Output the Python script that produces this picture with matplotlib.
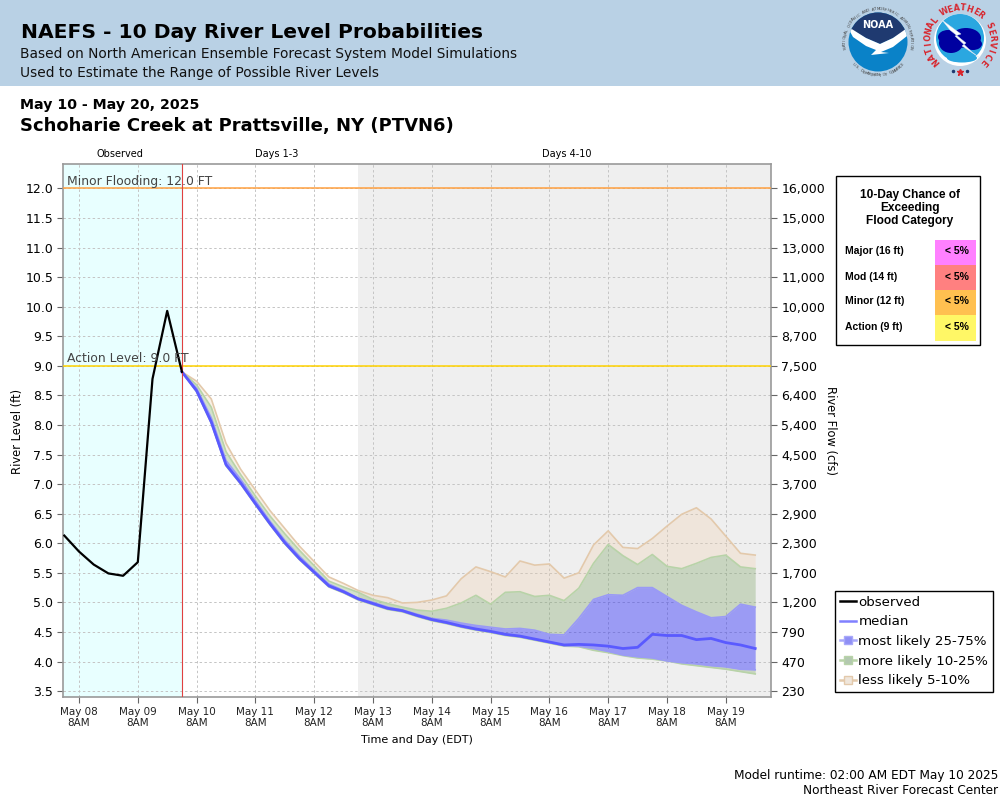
import numpy as np
import pandas as pd
import matplotlib
matplotlib.use('Agg')
import matplotlib.pyplot as plt
import matplotlib.dates as mdates
from matplotlib.lines import Line2D
from matplotlib.patches import Circle, Ellipse, Polygon, Rectangle

# river level in ft, one value every 6 hours
obs_time = pd.date_range('2025-05-08 02:00', periods=9, freq='6h')
observed = [6.13, 5.86, 5.64, 5.49, 5.45, 5.68, 8.78, 9.93, 8.90]

fc_time = pd.date_range('2025-05-10 02:00', periods=40, freq='6h')
median = [8.90, 8.58, 8.05, 7.33, 7.02, 6.67, 6.33, 6.01, 5.74, 5.51, 5.28, 5.18,
          5.06, 4.98, 4.90, 4.86, 4.78, 4.71, 4.66, 4.60, 4.55, 4.51, 4.46, 4.43,
          4.38, 4.33, 4.28, 4.29, 4.28, 4.26, 4.22, 4.24, 4.46, 4.44, 4.44, 4.37,
          4.39, 4.32, 4.28, 4.22]
p75 = [8.90, 8.62, 8.12, 7.40, 7.08, 6.72, 6.37, 6.05, 5.78, 5.54, 5.31, 5.20,
       5.07, 5.00, 4.92, 4.87, 4.80, 4.73, 4.70, 4.65, 4.61, 4.58, 4.55, 4.56,
       4.53, 4.46, 4.45, 4.73, 5.05, 5.13, 5.12, 5.25, 5.25, 5.10, 4.95, 4.84,
       4.74, 4.76, 4.97, 4.92]
p90 = [8.90, 8.68, 8.30, 7.55, 7.16, 6.80, 6.46, 6.16, 5.88, 5.62, 5.36, 5.26,
       5.17, 5.05, 4.98, 4.92, 4.87, 4.85, 4.90, 4.99, 5.12, 4.97, 5.17, 5.18,
       5.10, 5.12, 5.03, 5.24, 5.66, 5.98, 5.79, 5.64, 5.81, 5.61, 5.57, 5.66,
       5.76, 5.80, 5.60, 5.57]
p95 = [8.90, 8.74, 8.44, 7.69, 7.25, 6.90, 6.55, 6.25, 5.95, 5.69, 5.43, 5.32,
       5.20, 5.12, 5.08, 4.99, 5.00, 5.04, 5.11, 5.40, 5.60, 5.52, 5.43, 5.70,
       5.63, 5.65, 5.41, 5.50, 5.97, 6.21, 5.93, 5.91, 6.08, 6.29, 6.49, 6.60,
       6.41, 6.12, 5.83, 5.80]
p25 = [8.90, 8.57, 8.04, 7.32, 7.01, 6.66, 6.32, 6.00, 5.73, 5.50, 5.27, 5.17,
       5.05, 4.97, 4.89, 4.85, 4.77, 4.70, 4.65, 4.59, 4.54, 4.50, 4.45, 4.42,
       4.37, 4.32, 4.27, 4.26, 4.22, 4.17, 4.11, 4.08, 4.06, 4.01, 3.98, 3.96,
       3.93, 3.91, 3.87, 3.86]
p10 = [8.90, 8.56, 8.03, 7.31, 7.00, 6.65, 6.31, 5.99, 5.72, 5.49, 5.26, 5.16,
       5.04, 4.96, 4.88, 4.84, 4.76, 4.69, 4.64, 4.58, 4.53, 4.49, 4.44, 4.41,
       4.36, 4.31, 4.26, 4.25, 4.19, 4.15, 4.10, 4.06, 4.04, 4.01, 3.96, 3.93,
       3.90, 3.87, 3.83, 3.79]

level_ticks = [12.0, 11.5, 11.0, 10.5, 10.0, 9.5, 9.0, 8.5, 8.0, 7.5, 7.0, 6.5,
               6.0, 5.5, 5.0, 4.5, 4.0, 3.5]
flow_labels = ['16,000', '15,000', '13,000', '11,000', '10,000', '8,700', '7,500',
               '6,400', '5,400', '4,500', '3,700', '2,900', '2,300', '1,700',
               '1,200', '790', '470', '230']
day_ticks = pd.date_range('2025-05-08 08:00', periods=12, freq='24h')
day_labels = [d.strftime('%b %d') + '\n8AM' for d in day_ticks]

categories = ['Major (16 ft)', 'Mod (14 ft)', 'Minor (12 ft)', 'Action (9 ft)']
chances = ['< 5%', '< 5%', '< 5%', '< 5%']
chance_colors = ['#ff80ff', '#ff8080', '#ffc050', '#fff766']

BLUE = '#0000ff'
GREEN = '#6e9c56'
TAN = '#efcba3'

fig = plt.figure(figsize=(10, 8), dpi=100, facecolor='white')

# chart area: pixels 63-771 across, 164-697 down
ax = fig.add_axes([63 / 1000, (800 - 697) / 800, 708 / 1000, 533 / 800])
t0 = mdates.date2num(pd.Timestamp('2025-05-08 08:00'))
x_left = t0 - 16 / 58.8
x_right = t0 + 692 / 58.8
ax.set_xlim(x_left, x_right)
ax.set_ylim(3.4, 12.414)

now = mdates.date2num(pd.Timestamp('2025-05-10 02:00'))
days410 = mdates.date2num(pd.Timestamp('2025-05-13 02:00'))
ax.axvspan(x_left, now, color='#e8ffff', lw=0, zorder=0)
ax.axvspan(days410, x_right, color='#efefef', lw=0, zorder=0)

ax.set_xticks(mdates.date2num(day_ticks))
ax.set_xticklabels(day_labels, fontsize=7.5, color='#222222')
ax.set_yticks(level_ticks)
ax.set_yticklabels([f'{v:.1f}' for v in level_ticks], fontsize=9)
ax.grid(True, color='#c4c4c4', linestyle=(0, (2.5, 2.5)), linewidth=0.7, zorder=1)
ax.set_axisbelow(True)
ax.tick_params(axis='both', color='#666666', length=4, width=0.8, pad=3)
for spine in ax.spines.values():
    spine.set_edgecolor('#999999')
    spine.set_linewidth(1.2)

x_fc = mdates.date2num(fc_time)

# bands, widest first
ax.fill_between(x_fc, p90, p95, color=TAN, alpha=0.25, lw=0, zorder=2)
ax.fill_between(x_fc, p75, p90, color=GREEN, alpha=0.3, lw=0, zorder=2)
ax.fill_between(x_fc, p10, p25, color=GREEN, alpha=0.3, lw=0, zorder=2)
ax.fill_between(x_fc, p25, p75, color=BLUE, alpha=0.35, lw=0, zorder=2)
ax.plot(x_fc, p95, color='#e3c9ab', lw=1.2, zorder=3)
ax.plot(x_fc, p90, color='#b8d3a8', lw=1.2, zorder=3)
ax.plot(x_fc, p10, color='#b8d3a8', lw=1.2, zorder=3)
ax.plot(x_fc, p75, color='#9a9af5', lw=1.2, zorder=3)
ax.plot(x_fc, p25, color='#9a9af5', lw=1.2, zorder=3)
ax.plot(x_fc, median, color='#5a5aff', lw=2.0, zorder=4)
ax.plot(mdates.date2num(obs_time), observed, color='black', lw=1.6, zorder=5)

ax.axhline(12.0, color='#ffa040', lw=1.1, zorder=4)
ax.axhline(9.0, color='#ffd200', lw=1.1, zorder=4)
ax.axvline(now, color='#e04040', lw=0.8, zorder=4)
ax.text(x_left + 0.07, 12.01, 'Minor Flooding: 12.0 FT', fontsize=8.9, color='#444444',
        va='bottom', zorder=6)
ax.text(x_left + 0.07, 9.01, 'Action Level: 9.0 FT', fontsize=8.9, color='#444444',
        va='bottom', zorder=6)

right = ax.twinx()
right.set_ylim(ax.get_ylim())
right.set_yticks(level_ticks)
right.set_yticklabels(flow_labels, fontsize=9)
right.tick_params(axis='y', color='#666666', length=4, width=0.8)
for spine in right.spines.values():
    spine.set_visible(False)

legend_handles = [
    Line2D([0], [0], color='black', lw=1.8, label='observed'),
    Line2D([0], [0], color='#8080ff', lw=1.8, label='median'),
    Line2D([0], [0], color='#a8a8fa', lw=1.8, marker='s', ms=5.5, mfc='#8f8ff5',
           mec='#a8a8fa', label='most likely 25-75%'),
    Line2D([0], [0], color='#b8d3a8', lw=1.8, marker='s', ms=5.5, mfc='#b3c8b0',
           mec='#b8d3a8', label='more likely 10-25%'),
    Line2D([0], [0], color='#e3c9ab', lw=1.8, marker='s', ms=5.5, mfc='#efe6dc',
           mec='#e3c9ab', label='less likely 5-10%'),
]
legend = fig.legend(handles=legend_handles, loc='upper left',
                    bbox_to_anchor=(835 / 1000, (800 - 591) / 800), fontsize=9.6, frameon=True,
                    fancybox=False, edgecolor='black', framealpha=1, borderaxespad=0,
                    handlelength=1.2, handletextpad=0.2, labelspacing=0.5,
                    borderpad=0.35, numpoints=1)
legend.get_frame().set_linewidth(1.0)

# everything else placed in plain pixel coordinates
pg = fig.add_axes([0, 0, 1, 1], zorder=5)
pg.set_xlim(0, 1000)
pg.set_ylim(800, 0)
pg.axis('off')
pg.patch.set_alpha(0)

pg.add_patch(Rectangle((0, 0), 1000, 85.5, color='#b9d1e5', lw=0))
pg.text(21, 33, 'NAEFS - 10 Day River Level Probabilities', fontsize=14.6,
        fontweight='bold', va='center', color='black')
pg.text(20.5, 54, 'Based on North American Ensemble Forecast System Model Simulations',
        fontsize=9.9, va='center', color='#111111')
pg.text(20.5, 73, 'Used to Estimate the Range of Possible River Levels',
        fontsize=9.9, va='center', color='#111111')
pg.text(20.5, 105, 'May 10 - May 20, 2025', fontsize=10.2, fontweight='bold', va='center')
pg.text(20.5, 126, 'Schoharie Creek at Prattsville, NY (PTVN6)', fontsize=13.0,
        fontweight='bold', va='center')

pg.text(120, 154, 'Observed', fontsize=7, ha='center', va='center')
pg.text(277, 154, 'Days 1-3', fontsize=7, ha='center', va='center')
pg.text(567, 154, 'Days 4-10', fontsize=7, ha='center', va='center')

pg.text(18, 431, 'River Level (ft)', fontsize=8.3, rotation=90, ha='center', va='center')
pg.text(831, 431, 'River Flow (cfs)', fontsize=8.3, rotation=270, ha='center', va='center')
pg.text(417, 740, 'Time and Day (EDT)', fontsize=8.0, ha='center', va='center')

pg.text(998, 775, 'Model runtime: 02:00 AM EDT May 10 2025', fontsize=8.7, ha='right', va='center')
pg.text(998, 791, 'Northeast River Forecast Center', fontsize=8.7, ha='right', va='center')

# flood category table
pg.add_patch(Rectangle((836, 176), 144, 169, fc='white', ec='black', lw=1.0))
for yy, line in zip([195, 208, 221], ['10-Day Chance of', 'Exceeding', 'Flood Category']):
    pg.text(910, yy, line, fontsize=8.6, fontweight='bold', family='Liberation Sans',
            ha='center', va='center')
row_top = [240, 265, 290, 315]
row_height = [25, 25, 25, 26]
for top, h, cat, chance, col in zip(row_top, row_height, categories, chances, chance_colors):
    pg.add_patch(Rectangle((935, top), 41, h, color=col, lw=0))
    pg.text(845, top + h / 2 - 1, cat, fontsize=7.5, fontweight='bold',
            family='Liberation Sans', va='center')
    pg.text(957, top + h / 2 - 1, chance, fontsize=7.5, fontweight='bold',
            family='Liberation Sans', ha='center', va='center')


def ring_text(cx, cy, r, text, start, stop, bottom=False, **kw):
    for ch, deg in zip(text, np.linspace(start, stop, len(text))):
        t = np.radians(deg)
        rot = deg + 90 if bottom else deg - 90
        pg.text(cx + r * np.cos(t), cy - r * np.sin(t), ch, rotation=rot,
                rotation_mode='anchor', ha='center', va='center', **kw)


# NOAA logo
cx, cy = 878, 42
disk = Circle((cx, cy), 29.5, fc='#0a82c8', ec='none')
pg.add_patch(disk)
navy = Polygon([(845, 5), (911, 5), (911, 27), (893, 38), (880, 44), (866, 38), (845, 26)],
               fc='#1f3a70', ec='none')
pg.add_patch(navy)
navy.set_clip_path(disk)
bird = Polygon([(847, 26), (866, 38), (880, 44), (893, 38), (910, 26), (907, 36), (893, 47),
                (881, 52), (889, 53), (871, 55), (876, 50), (866, 46), (853, 37)],
               fc='white', ec='none')
pg.add_patch(bird)
bird.set_clip_path(disk)
pg.text(cx, 25, 'NOAA', fontsize=7, fontweight='bold', color='white', ha='center', va='center')
ring_text(cx, cy, 33, 'NATIONAL OCEANIC AND ATMOSPHERIC ADMINISTRATION', 190, -10,
          fontsize=2.8, color='#444444')
ring_text(cx, cy, 33.5, 'U.S. DEPARTMENT OF COMMERCE', 222, 318, bottom=True,
          fontsize=2.8, color='#444444')

# NWS logo
cx, cy = 960, 40
face = Circle((cx, cy), 26, fc='white', ec='none')
pg.add_patch(face)
sky = Circle((cx, cy - 2), 24, fc='#2aa7e0', ec='none')
pg.add_patch(sky)
sky_low = Ellipse((cx + 2, cy + 18), 30, 9, fc='#2aa7e0', ec='none')
pg.add_patch(sky_low)
for ex, ey, ew, eh in [(951, 43, 24, 20), (966, 38, 30, 20), (948, 37, 20, 14), (973, 44, 18, 12)]:
    pg.add_patch(Ellipse((ex, ey), ew, eh, fc='#0000a0', ec='none', zorder=3))
pg.add_patch(Polygon([(942, 20), (961, 34), (955, 36), (972, 52), (980, 58), (962, 46),
                      (966, 43), (950, 30)], fc='white', ec='#d0e0f0', lw=0.3, zorder=4))
ring_text(cx, cy, 32, 'NATIONAL WEATHER SERVICE', 222, -42,
          fontsize=5.8, fontweight='bold', color='#d8242c')
pg.plot([953, 967], [71, 71], ls='none', marker='o', ms=1.5, color='#1f3a70')
pg.plot([960], [72], ls='none', marker='*', ms=4.5, color='#d8242c')

fig.savefig('out.png', dpi=100)
